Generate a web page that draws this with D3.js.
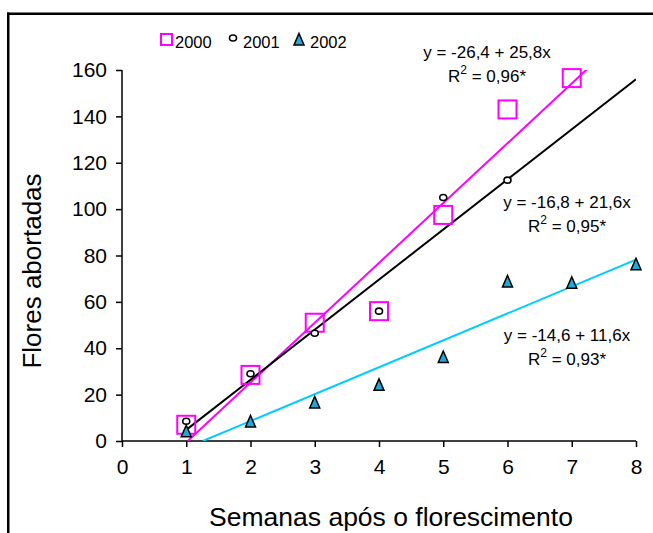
<!DOCTYPE html>
<html>
<head>
<meta charset="utf-8">
<script src="https://cdn.jsdelivr.net/npm/d3@7"></script>
<style>
  html, body { margin: 0; padding: 0; background: #fff; }
  svg { display: block; font-family: "Liberation Sans", Arial, sans-serif; }
</style>
</head>
<body>
<svg id="chart" width="653" height="533"></svg>
<script>
// Weeks after flowering
const weeks = [1, 2, 3, 4, 5, 6, 7, 8];
// Aborted flowers per season
const y2000 = [7, 28.5, 51, 56, 97.5, 143, 156.5, null];
const y2001 = [8.5, 29, 46.5, 56, 105, 112.5, null, null];
const y2002 = [4, 8.2, 16.4, 24, 36, 68.6, 68, 76];
// Fitted linear regressions (intercept, slope) and R²
const fits = [
  { year: "2000", a: -26.4, b: 25.8, r2: "0,96*", xMax: 7.3 },
  { year: "2001", a: -16.8, b: 21.6, r2: "0,95*", xMax: 8 },
  { year: "2002", a: -14.6, b: 11.6, r2: "0,93*", xMax: 8 }
];
const xTicks = [0, 1, 2, 3, 4, 5, 6, 7, 8];
const yTicks = [0, 20, 40, 60, 80, 100, 120, 140, 160];

const colors = { "2000": "#ff00ff", "2001": "#000000", "2002": "#00ccff" };
const triFill = "#1ea8d8";

const svg = d3.select("#chart");

// Outer frame: top and left edges as filled bars (right and bottom lie outside the view)
svg.append("rect").attr("x", 7).attr("y", 12.5).attr("width", 646).attr("height", 2.5).attr("fill", "#000");
svg.append("rect").attr("x", 7).attr("y", 12.5).attr("width", 2.5).attr("height", 521).attr("fill", "#000");

const x = d3.scaleLinear().domain([0, 8]).range([122, 636]);
const y = d3.scaleLinear().domain([0, 160]).range([441, 70]);

// Axes
const xAxis = d3.axisBottom(x).tickValues(xTicks).tickSize(6).tickPadding(12).tickFormat(d3.format("d"));
const yAxis = d3.axisLeft(y).tickValues(yTicks).tickSize(6).tickPadding(9).tickFormat(d3.format("d"));

const gx = svg.append("g").attr("transform", `translate(0,${y(0)})`).call(xAxis);
const gy = svg.append("g").attr("transform", `translate(${x(0)},0)`).call(yAxis);
[gx, gy].forEach(g => {
  g.select(".domain").attr("stroke", "#000").attr("stroke-width", 1.5)
    .attr("d", g === gx ? `M${x(0)},0H${x(8)}` : `M0,${y(160)}V${y(0)}`);
  g.selectAll(".tick line").attr("stroke", "#000").attr("stroke-width", 1.5);
  g.selectAll(".tick text").attr("fill", "#000").attr("font-size", 21)
    .attr("font-family", "Liberation Sans, Arial, sans-serif");
});

// Axis titles
svg.append("text")
  .attr("x", 391).attr("y", 526).attr("text-anchor", "middle")
  .attr("font-size", 26.5).text("Semanas após o florescimento");
svg.append("text")
  .attr("transform", `translate(41,271) rotate(-90)`).attr("text-anchor", "middle")
  .attr("font-size", 26).text("Flores abortadas");

// Regression lines, clipped to the plotted value range
svg.append("clipPath").attr("id", "plotClip").append("rect")
  .attr("x", x(0)).attr("y", y(160)).attr("width", x(8) - x(0)).attr("height", y(0) - y(160));

const lines = svg.append("g").attr("clip-path", "url(#plotClip)");
fits.forEach(f => {
  const x0 = Math.max(1, -f.a / f.b);
  lines.append("line")
    .attr("x1", x(x0)).attr("y1", y(f.a + f.b * x0))
    .attr("x2", x(f.xMax)).attr("y2", y(f.a + f.b * f.xMax))
    .attr("stroke", colors[f.year]).attr("stroke-width", 2);
});

// Markers
const sq = 18;
svg.append("g").selectAll("rect")
  .data(weeks.map((w, i) => [w, y2000[i]]).filter(d => d[1] != null))
  .join("rect")
  .attr("x", d => x(d[0]) - sq / 2).attr("y", d => y(d[1]) - sq / 2)
  .attr("width", sq).attr("height", sq)
  .attr("fill", "none").attr("stroke", colors["2000"]).attr("stroke-width", 2);

svg.append("g").selectAll("ellipse")
  .data(weeks.map((w, i) => [w, y2001[i]]).filter(d => d[1] != null))
  .join("ellipse")
  .attr("cx", d => x(d[0])).attr("cy", d => y(d[1]))
  .attr("rx", 3.5).attr("ry", 3)
  .attr("fill", "#fff").attr("stroke", "#000").attr("stroke-width", 1.6);

const tri = (cx, cy) => `M${cx},${cy - 6.5}L${cx + 5},${cy + 5}L${cx - 5},${cy + 5}Z`;
svg.append("g").selectAll("path")
  .data(weeks.map((w, i) => [w, y2002[i]]).filter(d => d[1] != null))
  .join("path")
  .attr("d", d => tri(x(d[0]), y(d[1])))
  .attr("fill", triFill).attr("stroke", "#000").attr("stroke-width", 1.5);

// Regression equations
const eqPos = [[487, 58], [567, 208], [567, 341]];
fits.forEach((f, i) => {
  const [cx, cy] = eqPos[i];
  const sign = f.a < 0 ? "-" : "";
  svg.append("text").attr("x", cx).attr("y", cy).attr("text-anchor", "middle")
    .attr("font-size", 17)
    .text(`y = ${sign}${Math.abs(f.a).toFixed(1).replace(".", ",")} + ${f.b.toFixed(1).replace(".", ",")}x`);
  const t = svg.append("text").attr("x", cx).attr("y", cy + 24).attr("text-anchor", "middle")
    .attr("font-size", 17);
  t.append("tspan").text("R");
  t.append("tspan").attr("dy", -8).attr("font-size", 12).text("2");
  t.append("tspan").attr("dy", 8).text(` = ${f.r2}`);
});

// Legend
const lg = svg.append("g");
lg.append("rect").attr("x", 161).attr("y", 34).attr("width", 11).attr("height", 11)
  .attr("fill", "none").attr("stroke", colors["2000"]).attr("stroke-width", 2);
lg.append("text").attr("x", 175).attr("y", 48).attr("font-size", 16.5).text("2000");
lg.append("ellipse").attr("cx", 233).attr("cy", 38).attr("rx", 3.5).attr("ry", 3)
  .attr("fill", "#fff").attr("stroke", "#000").attr("stroke-width", 1.6);
lg.append("text").attr("x", 243).attr("y", 48).attr("font-size", 16.5).text("2001");
lg.append("path").attr("d", tri(299, 40)).attr("fill", triFill).attr("stroke", "#000").attr("stroke-width", 1.5);
lg.append("text").attr("x", 310).attr("y", 48).attr("font-size", 16.5).text("2002");
</script>
</body>
</html>
